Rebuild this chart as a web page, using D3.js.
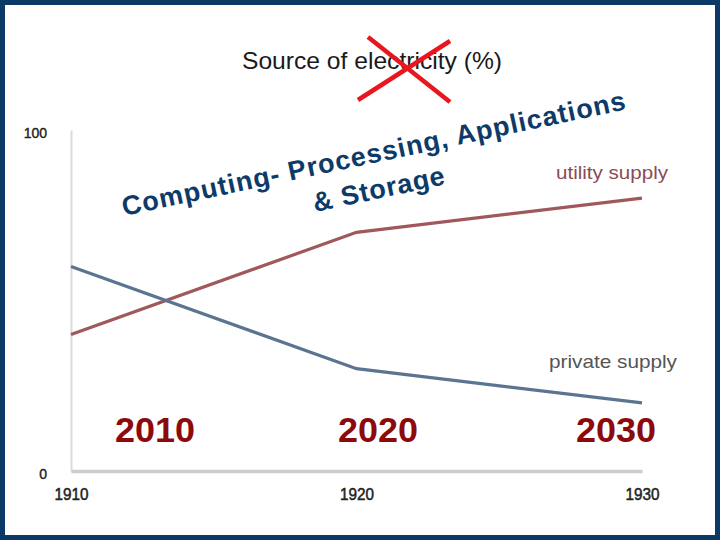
<!DOCTYPE html>
<html>
<head>
<meta charset="utf-8">
<script src="https://cdn.jsdelivr.net/npm/d3@7"></script>
<style>
  html, body { margin: 0; padding: 0; background: #ffffff; }
  svg { display: block; }
</style>
</head>
<body>
<svg id="chart" width="720" height="540"></svg>
<script>
// ---- data ----
const years = [1910, 1920, 1930];
const utilitySupply = [40, 70, 80];
const privateSupply = [60, 30, 20];
const yTicks = [0, 100];
const xTickLabels = ["1910", "1920", "1930"];
const titleText = "Source of electricity (%)";
const overlayLine1 = "Computing- Processing, Applications";
const overlayLine2 = "& Storage";
const decadeLabels = ["2010", "2020", "2030"];
const seriesLabels = ["utility supply", "private supply"];

const svg = d3.select("#chart");
const FONT = "'Liberation Sans', Arial, Helvetica, sans-serif";

// background
svg.append("rect").attr("x", 0).attr("y", 0).attr("width", 720).attr("height", 540).attr("fill", "#ffffff");

// scales
const x = d3.scaleLinear().domain([1910, 1930]).range([71, 642]);
const y = d3.scaleLinear().domain([0, 100]).range([471, 130]);

// y axis
const yAxis = svg.append("g").attr("transform", "translate(71,0)")
  .call(d3.axisLeft(y).tickValues(yTicks).tickSize(0).tickPadding(24).tickFormat(d3.format("d")));
yAxis.select(".domain").attr("stroke", "#dadada").attr("stroke-width", 2);
yAxis.selectAll("text").attr("font-family", FONT).attr("font-size", 14).attr("fill", "#222")
  .attr("stroke", "#222").attr("stroke-width", 0.4)
  .attr("dy", "0.5em");

// x axis
const xAxis = svg.append("g").attr("transform", "translate(0,471)")
  .call(d3.axisBottom(x).tickValues(years).tickSize(0).tickFormat((d, i) => xTickLabels[i]));
xAxis.select(".domain").attr("stroke", "#cccccc").attr("stroke-width", 3.5);
xAxis.selectAll("text").attr("font-family", FONT).attr("font-size", 17).attr("fill", "#222")
  .attr("y", 29).attr("dy", 0).attr("stroke", "#222").attr("stroke-width", 0.5)
  .attr("textLength", 34).attr("lengthAdjust", "spacingAndGlyphs");

// lines
const line = d3.line().x((d, i) => x(years[i])).y(d => y(d));
svg.append("path").datum(utilitySupply).attr("d", line)
  .attr("fill", "none").attr("stroke", "#a0585c").attr("stroke-width", 3.2).attr("stroke-linecap", "butt");
svg.append("path").datum(privateSupply).attr("d", line)
  .attr("fill", "none").attr("stroke", "#5b7492").attr("stroke-width", 3.2).attr("stroke-linecap", "butt");

// series labels
svg.append("text").text(seriesLabels[0]).attr("x", 556).attr("y", 179)
  .attr("font-family", FONT).attr("font-size", 19).attr("fill", "#8a4b55")
  .attr("textLength", 112).attr("lengthAdjust", "spacingAndGlyphs");
svg.append("text").text(seriesLabels[1]).attr("x", 549).attr("y", 368)
  .attr("font-family", FONT).attr("font-size", 19).attr("fill", "#555555")
  .attr("textLength", 128).attr("lengthAdjust", "spacingAndGlyphs");

// title
svg.append("text").text(titleText).attr("x", 242).attr("y", 69)
  .attr("font-family", FONT).attr("font-size", 24).attr("fill", "#1a1a1a")
  .attr("textLength", 260).attr("lengthAdjust", "spacingAndGlyphs");

// red cross
const cross = svg.append("g").attr("stroke", "#e8161e").attr("stroke-width", 4.5).attr("stroke-linecap", "butt");
cross.append("line").attr("x1", 368).attr("y1", 37).attr("x2", 450).attr("y2", 102);
cross.append("line").attr("x1", 450).attr("y1", 41).attr("x2", 358).attr("y2", 100);

// rotated overlay text
const navy = "#0d3a68";
svg.append("text").text(overlayLine1)
  .attr("transform", "translate(124,216) rotate(-12)")
  .attr("font-family", FONT).attr("font-weight", "bold").attr("font-size", 27).attr("fill", navy)
  .attr("textLength", 514).attr("lengthAdjust", "spacing");
svg.append("text").text(overlayLine2)
  .attr("transform", "translate(315,212) rotate(-12)")
  .attr("font-family", FONT).attr("font-weight", "bold").attr("font-size", 27).attr("fill", navy)
  .attr("textLength", 134).attr("lengthAdjust", "spacing");

// decade labels
const decadeX = [155, 378, 616];
svg.selectAll("text.decade").data(decadeLabels).enter().append("text").attr("class", "decade")
  .text(d => d).attr("x", (d, i) => decadeX[i]).attr("y", 442).attr("text-anchor", "middle")
  .attr("font-family", FONT).attr("font-weight", "bold").attr("font-size", 35).attr("fill", "#8c0a0c")
  .attr("textLength", 80).attr("lengthAdjust", "spacingAndGlyphs");

// frame
svg.append("rect").attr("x", 2.5).attr("y", 2.5).attr("width", 715).attr("height", 535)
  .attr("fill", "none").attr("stroke", "#0b3a66").attr("stroke-width", 5);
</script>
</body>
</html>
